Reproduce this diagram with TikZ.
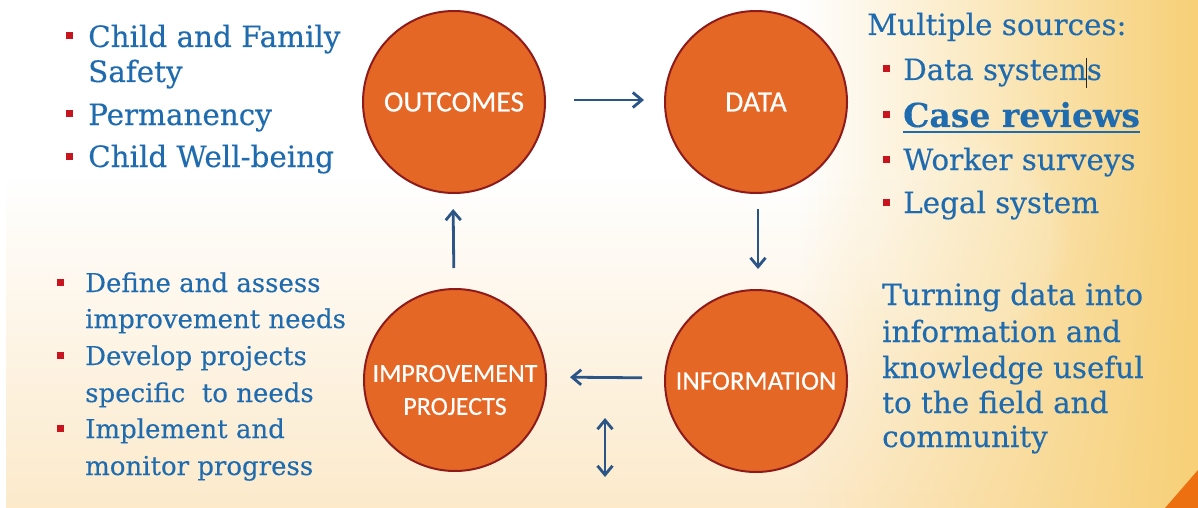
\documentclass[tikz,border=0pt]{standalone}
\usepackage{fontspec}
\setmainfont{DejaVu Serif}[FakeBold=0.25]
\newfontfamily\lab{Carlito}[FakeBold=0.3]
\usetikzlibrary{arrows.meta,fadings}
\definecolor{txtblue}{HTML}{1F6BAF}
\definecolor{bulred}{HTML}{C8141E}
\definecolor{circfill}{HTML}{E56725}
\definecolor{circline}{HTML}{8E1B1B}
\definecolor{arrblue}{HTML}{2B5487}
\definecolor{yelR}{HTML}{F7D077}
\definecolor{cream}{HTML}{FCEACB}
\definecolor{orng}{HTML}{EC7010}
\tikzfading[name=fadeRight, left color=transparent!100, right color=transparent!0]
\tikzfading[name=fadeDown, top color=transparent!100, bottom color=transparent!0]
\begin{document}
\begin{tikzpicture}[x=1pt,y=-1pt,
  stage/.style={circle, draw=circline, line width=2pt, fill=circfill, minimum size=182pt, inner sep=0pt, text=white, font=\lab\fontsize{29.5}{32}\selectfont, align=center},
  stagetext/.style={text=white, inner sep=0pt, align=center, font=\lab\fontsize{26}{33}\selectfont},
  flow/.style={draw=arrblue, line width=2.8pt, -{Straight Barb[length=9pt,width=15pt]}},
  tA/.style={anchor=base west, inner sep=0pt, text=txtblue, font=\fontsize{29.4}{35}\selectfont},
  tB/.style={anchor=base west, inner sep=0pt, text=txtblue, font=\fontsize{26}{32}\selectfont},
  bul/.style={fill=bulred, minimum size=7pt, inner sep=0pt}
]
\useasboundingbox (0,0) rectangle (1198,508);
% background
\fill[white] (0,0) rectangle (1198,508);
\fill[cream, path fading=fadeDown] (7,180) rectangle (1198,508);
\fill[yelR, path fading=fadeRight] (800,0) rectangle (1198,508);
\fill[white, opacity=0.12, path fading=circle with fuzzy edge 20 percent] (960,240) circle (110);
\fill[orng] (1165,508) -- (1198,470) -- (1198,508) -- cycle;

% circles
\node[stage] (out) at (454,102) {OUTCOMES};
\node[stage] (dat) at (756,102) {DATA};
\node[stage, font=\lab\fontsize{27}{32}\selectfont] (inf) at (756,381) {INFORMATION};
\node[stage] (imp) at (455,380) {};
\node[stagetext] (imptext) at (455,390) {IMPROVEMENT\\PROJECTS};

% arrows
\draw[flow, shorten <=28pt, shorten >=20pt] ([yshift=2pt]out.east) -- ([yshift=2pt]dat.west);
\draw[flow, shorten <=15pt, shorten >=20pt] ([xshift=2pt]dat.south) -- ([xshift=2pt]inf.north);
\draw[flow, shorten <=22pt, shorten >=23pt] ([yshift=3pt]inf.west) -- ([yshift=3pt]imp.east);
\draw[flow, shorten <=20pt, shorten >=15pt] ([xshift=-1pt]imp.north) -- ([xshift=-1pt]out.south);
\coordinate (da) at (605,418);
\coordinate (db) at (605,477);
\draw[flow, {Straight Barb[length=9pt,width=15pt]}-{Straight Barb[length=9pt,width=15pt]}] (da) -- (db);

% top-left list
\node[bul] (b1) at (69,36) {};
\node[tA] (t1a) at (88,47) {Child and Family};
\node[tA] (t1b) at (88,82) {Safety};
\node[bul] (b2) at (69,114) {};
\node[tA] (t2) at (88,125) {Permanency};
\node[bul] (b3) at (69,156) {};
\node[tA] (t3) at (88,167) {Child Well-being};

% right list
\node[tA] (ms) at (867,35) {Multiple sources:};
\node[bul] (b4) at (886,69) {};
\node[tA] (r1) at (903,80) {Data systems};
\draw[line width=1pt, black!85] (1086,58) -- (1086,88);
\node[bul] (b5) at (886,115) {};
\node[tA, font=\fontsize{33}{38}\selectfont] (r2) at (903,127) {\bfseries Case reviews};
\draw[txtblue, line width=2pt] ([yshift=-5pt]r2.base west) -- ([yshift=-5pt]r2.base east);
\node[bul] (b6) at (886,159) {};
\node[tA] (r3) at (903,170) {Worker surveys};
\node[bul] (b7) at (886,202) {};
\node[tA] (r4) at (903,213) {Legal system};

% bottom-left list
\node[bul] (b8) at (60,282) {};
\node[tB] (d1a) at (85,292) {Define and assess};
\node[tB] (d1b) at (85,328) {improvement needs};
\node[bul] (b9) at (60,355) {};
\node[tB] (d2a) at (85,365) {Develop projects};
\node[tB] (d2b) at (85,402) {specific\ \ to needs};
\node[bul] (b10) at (60,428) {};
\node[tB] (d3a) at (85,438) {Implement and};
\node[tB] (d3b) at (85,475) {monitor progress};

% right paragraph
\node[tA] (p1) at (882,305) {Turning data into};
\node[tA] (p2) at (882,342) {information and};
\node[tA] (p3) at (882,378) {knowledge useful};
\node[tA] (p4) at (882,413) {to the field and};
\node[tA] (p5) at (882,447) {community};
\end{tikzpicture}
\end{document}
